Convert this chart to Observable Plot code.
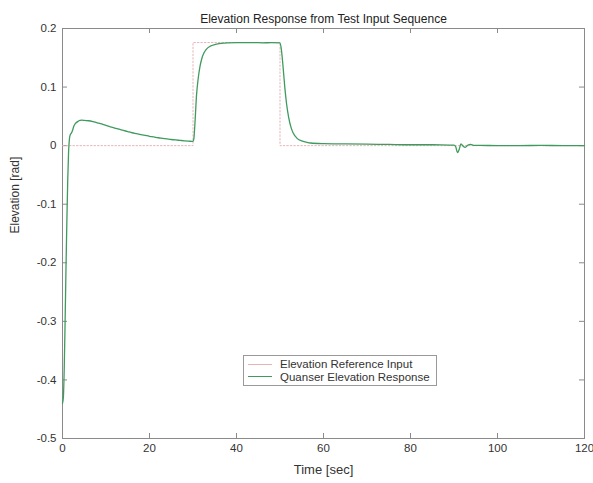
<!DOCTYPE html>
<html>
<head>
<meta charset="utf-8">
<script src="https://cdn.jsdelivr.net/npm/d3@7"></script>
<script src="https://cdn.jsdelivr.net/npm/@observablehq/plot@0.6"></script>
<style>
  html, body { margin: 0; padding: 0; background: #fff; }
  #wrap { position: relative; width: 593px; height: 483px; font-family: "Liberation Sans", Arial, sans-serif; }
  #legend { position: absolute; left: 243px; top: 355px; width: 194px; height: 31px; border: 1px solid #9a9a9a; background: #fff; font-size: 11.5px; color: #333; box-sizing: border-box; padding-top: 2px; white-space: nowrap; overflow: hidden; }
  .row { display: flex; align-items: center; height: 12.5px; line-height: 12.5px; }
  .sw { display: inline-block; flex: none; width: 24px; margin-left: 4px; margin-right: 8px; height: 0; }
</style>
</head>
<body>
<div id="wrap"><div id="legend"></div></div>
<script>
const title = "Elevation Response from Test Input Sequence";
const xLabel = "Time [sec]";
const yLabel = "Elevation [rad]";
const seriesNames = ["Elevation Reference Input", "Quanser Elevation Response"];
const seriesColors = ["#e6b4b8", "#3f9a5e"];

const xTicks = [0, 20, 40, 60, 80, 100, 120];
const yTicks = [-0.5, -0.4, -0.3, -0.2, -0.1, 0, 0.1, 0.2];

// reference input (step sequence)
const refTime = [0, 30, 30, 50, 50, 120];
const refValue = [0, 0, 0.176, 0.176, 0, 0];

// measured elevation response
const respTime = [0, 0.2, 0.4, 0.6, 0.8, 1.0, 1.2, 1.4, 1.6, 1.8, 2.0, 2.3, 2.6, 3.0, 3.5, 4.0, 4.5, 5, 6, 7, 8, 9, 10, 11, 12, 13, 14, 15, 16, 17, 18, 19, 20, 21, 22, 23, 24, 25, 26, 27, 28, 29, 30,
  30.2, 30.5, 30.8, 31.2, 31.6, 32, 32.5, 33, 34, 35, 36, 37, 38, 40, 42, 44, 46, 48, 50,
  50.3, 50.7, 51.1, 51.5, 52, 52.5, 53, 54, 55, 56, 57, 60, 65, 70, 75, 80, 85, 89, 90,
  90.4, 90.8, 91.2, 91.6, 92.1, 92.6, 93.2, 93.8, 94.5, 96, 100, 105, 110, 115, 120];
const respValue = [-0.44, -0.43, -0.38, -0.30, -0.21, -0.13, -0.06, -0.01, 0.012, 0.019, 0.021, 0.026, 0.033, 0.038, 0.041, 0.043, 0.0435, 0.043, 0.0425, 0.041, 0.039, 0.037, 0.0345, 0.032, 0.030, 0.028, 0.026, 0.024, 0.022, 0.0205, 0.019, 0.0175, 0.016, 0.0148, 0.0135, 0.0125, 0.0115, 0.0105, 0.0097, 0.009, 0.0083, 0.0077, 0.0072,
  0.012, 0.045, 0.085, 0.115, 0.135, 0.148, 0.158, 0.164, 0.170, 0.1725, 0.174, 0.175, 0.1755, 0.176, 0.1758, 0.176, 0.1755, 0.1758, 0.1755,
  0.165, 0.135, 0.10, 0.072, 0.048, 0.032, 0.022, 0.012, 0.008, 0.006, 0.0045, 0.0035, 0.003, 0.0025, 0.002, 0.0015, 0.0015, 0.001, 0.001,
  -0.002, -0.012, -0.006, 0.003, -0.001, -0.003, 0.001, 0.002, 0.0005, 0.0005, 0.0, 0.0, 0.0005, 0.0, 0.0];

const ref = refTime.map((t, i) => ({t, v: refValue[i]}));
const resp = respTime.map((t, i) => ({t, v: respValue[i]}));

const axisColor = "#8a8a8a";
const fmt = d => String(d);

const chart = Plot.plot({
  width: 593,
  height: 483,
  marginLeft: 62,
  marginRight: 9,
  marginTop: 28,
  marginBottom: 45,
  x: {domain: [0, 120]},
  y: {domain: [-0.5, 0.2]},
  style: {fontFamily: "'Liberation Sans', Arial, sans-serif", fontSize: "11.5px", color: "#333", background: "white", overflow: "visible"},
  marks: [
    Plot.frame({stroke: axisColor}),
    Plot.axisX({ticks: xTicks, tickSize: 0, tickPadding: 5, tickFormat: fmt, label: null}),
    Plot.axisY({ticks: yTicks, tickSize: 0, tickPadding: 6, tickFormat: fmt, label: null}),
    Plot.ruleX(xTicks, {x: d => d, insetTop: 405, stroke: axisColor}),
    Plot.ruleX(xTicks, {x: d => d, insetBottom: 405, stroke: axisColor}),
    Plot.ruleY(yTicks, {y: d => d, insetRight: 517, stroke: axisColor}),
    Plot.ruleY(yTicks, {y: d => d, insetLeft: 517, stroke: axisColor}),
    Plot.line(ref, {x: "t", y: "v", stroke: seriesColors[0], strokeWidth: 1, strokeDasharray: "1.5,2"}),
    Plot.line(resp, {x: "t", y: "v", stroke: seriesColors[1], strokeWidth: 1.3, curve: "monotone-x"}),
    Plot.text([title], {text: d => d, frameAnchor: "top", dy: -14, fontSize: 12, fill: "#222"}),
    Plot.text([xLabel], {text: d => d, frameAnchor: "bottom", dy: 35, fontSize: 13, fill: "#333"}),
    Plot.text([yLabel], {text: d => d, frameAnchor: "left", dx: -47, rotate: -90, fontSize: 12, fill: "#333"})
  ]
});
const wrap = document.getElementById("wrap");
wrap.insertBefore(chart, wrap.firstChild);

const legend = document.getElementById("legend");
seriesNames.forEach((name, i) => {
  const row = document.createElement("div");
  row.className = "row";
  const sw = document.createElement("span");
  sw.className = "sw";
  sw.style.borderTop = "1.3px solid " + seriesColors[i];
  const tx = document.createElement("span");
  tx.textContent = name;
  row.appendChild(sw);
  row.appendChild(tx);
  legend.appendChild(row);
});
</script>
</body>
</html>
